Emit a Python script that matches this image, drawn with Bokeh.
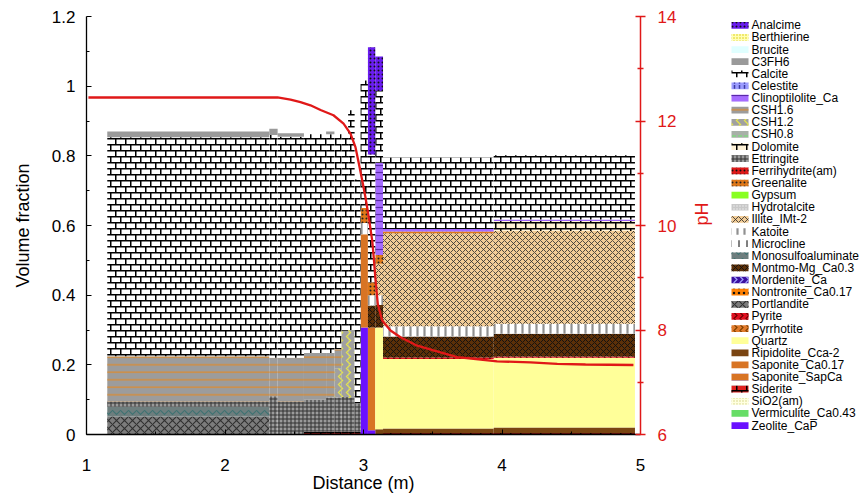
import math
from bokeh.plotting import figure
from bokeh.layouts import row
from bokeh.models import (Range1d, LinearAxis, FixedTicker, ColumnDataSource,
                          CanvasTexture, CustomJSTickFormatter)
from bokeh.core.properties import value
from bokeh.embed import file_html
from bokeh.resources import INLINE

# ---------------- data ----------------
# cell edges along the profile (m)
edges = [1.15, 2.32, 2.38, 2.57, 2.73, 2.79, 2.84, 2.889, 2.936, 2.979, 3.032, 3.085, 3.141, 3.94, 4.96]

# volume fraction per cell (one value per segment between edges)
siderite      = [0, 0, 0, 0.008, 0.008, 0.008, 0.008, 0.008, 0.008, 0, 0, 0, 0.004, 0.004]
ripidolite    = [0, 0, 0, 0, 0, 0, 0, 0, 0, 0, 0, 0.015, 0.013, 0.016]
zeolite_cap   = [0, 0, 0, 0, 0, 0, 0, 0, 0, 0.307, 0.012, 0, 0, 0]
portlandite   = [0.052, 0, 0, 0, 0, 0, 0, 0, 0, 0, 0, 0, 0, 0]
monosulfo     = [0.028, 0, 0, 0, 0, 0, 0, 0, 0, 0, 0, 0, 0, 0]
ettringite    = [0.015, 0.11, 0.095, 0.092, 0.098, 0.098, 0.10, 0.097, 0.082, 0, 0, 0, 0, 0]
saponite_ca   = [0, 0, 0, 0, 0, 0, 0, 0, 0, 0.268, 0.295, 0, 0, 0]
quartz        = [0, 0, 0, 0, 0, 0, 0, 0, 0, 0, 0, 0.292, 0.20, 0.20]
pyrite        = [0, 0, 0, 0, 0, 0, 0, 0, 0, 0, 0, 0, 0.004, 0.004]
csh12         = [0, 0, 0, 0, 0, 0.084, 0.19, 0.195, 0, 0, 0, 0, 0, 0]
csh16         = [0.13, 0.11, 0.125, 0.134, 0.128, 0.055, 0, 0, 0, 0, 0, 0, 0, 0]
montmo        = [0, 0, 0, 0, 0, 0, 0, 0, 0, 0, 0.063, 0.065, 0.06, 0.065]
katoite       = [0, 0, 0, 0, 0, 0, 0, 0, 0, 0.032, 0.03, 0.028, 0.03, 0.029]
illite        = [0, 0, 0, 0, 0, 0, 0, 0, 0, 0, 0, 0.09, 0.267, 0.266]
greenalite    = [0, 0, 0, 0, 0, 0, 0, 0, 0, 0.043, 0.037, 0.025, 0.005, 0]
dolomite      = [0, 0, 0, 0, 0, 0, 0, 0, 0, 0, 0, 0, 0, 0.029]
clinoptilolite = [0, 0, 0, 0, 0, 0, 0, 0, 0, 0, 0, 0.265, 0.007, 0.004]
calcite       = [0.628, 0.64, 0.635, 0.628, 0.628, 0.617, 0.564, 0.631, 0.642, 0.366, 0.367, 0.206, 0.205, 0.185]
c3fh6         = [0.017, 0.018, 0.01, 0, 0.008, 0, 0, 0, 0, 0, 0, 0, 0, 0]
analcime      = [0, 0, 0, 0, 0, 0, 0, 0, 0, 0, 0.308, 0.099, 0, 0]

# pH profile
ph_x = [1.014, 2.379, 2.473, 2.545, 2.617, 2.690, 2.783, 2.856, 2.906, 2.942, 2.966, 2.991,
        3.014, 3.038, 3.063, 3.074, 3.087, 3.103, 3.135, 3.195, 3.267, 3.388, 3.505, 3.677,
        3.794, 3.965, 4.206, 4.399, 4.603, 4.949]
ph_y = [12.45, 12.45, 12.41, 12.36, 12.30, 12.21, 12.11, 11.95, 11.76, 11.50, 11.19, 10.86,
        10.54, 10.16, 9.71, 9.39, 8.95, 8.50, 8.18, 7.99, 7.86, 7.70, 7.61, 7.48,
        7.45, 7.40, 7.38, 7.35, 7.34, 7.33]

legend_names = ["Analcime", "Berthierine", "Brucite", "C3FH6", "Calcite", "Celestite",
                "Clinoptilolite_Ca", "CSH1.6", "CSH1.2", "CSH0.8", "Dolomite", "Ettringite",
                "Ferrihydrite(am)", "Greenalite", "Gypsum", "Hydrotalcite", "Illite_IMt-2",
                "Katoite", "Microcline", "Monosulfoaluminate", "Montmo-Mg_Ca0.3", "Mordenite_Ca",
                "Nontronite_Ca0.17", "Portlandite", "Pyrite", "Pyrrhotite", "Quartz",
                "Ripidolite_Cca-2", "Saponite_Ca0.17", "Saponite_SapCa", "Siderite", "SiO2(am)",
                "Vermiculite_Ca0.43", "Zeolite_CaP"]

minerals = {
    "Siderite": siderite, "Ripidolite_Cca-2": ripidolite, "Zeolite_CaP": zeolite_cap,
    "Portlandite": portlandite, "Monosulfoaluminate": monosulfo, "Ettringite": ettringite,
    "Saponite_Ca0.17": saponite_ca, "Quartz": quartz, "Pyrite": pyrite, "CSH1.2": csh12,
    "CSH1.6": csh16, "Montmo-Mg_Ca0.3": montmo, "Katoite": katoite, "Illite_IMt-2": illite,
    "Greenalite": greenalite, "Dolomite": dolomite, "Clinoptilolite_Ca": clinoptilolite,
    "Calcite": calcite, "C3FH6": c3fh6, "Analcime": analcime,
}
stack_order = list(minerals.keys())

# ---------------- styles ----------------
# name: (fill, hatch, hatch_color, hatch_scale, hatch_weight)
styles = {
    "Analcime": ("#6a1cf0", ".", "#101010", 4, 1.6),
    "Berthierine": ("#ffffb4", ".", "#d8c800", 3, 1.5),
    "Brucite": ("#e0ffff", None, "#000000", 6, 1),
    "C3FH6": ("#9a9a9a", None, "#000000", 6, 1),
    "Calcite": ("#ffffff", "brick", "#000000", 12, 1),
    "Celestite": ("#9c9cff", ":", "#3c3ca0", 5, 1.5),
    "Clinoptilolite_Ca": ("#a66cff", "-", "#5a2aa8", 7, 1.2),
    "CSH1.6": ("#9c9c9c", "-", "#e08a2a", 7.5, 1.2),
    "CSH1.2": ("#a0a0a0", ">", "#e4e44c", 8, 1.3),
    "CSH0.8": ("#a8b0a8", '"', "#78e078", 6, 1.2),
    "Dolomite": ("#fff2d6", "brick", "#000000", 12, 1),
    "Ettringite": ("#9a9a9a", "+", "#303030", 4, 1),
    "Ferrihydrite(am)": ("#e01818", ".", "#101010", 4, 1.5),
    "Greenalite": ("#e07818", ".", "#202020", 4, 1.6),
    "Gypsum": ("#88ff22", None, "#000000", 6, 1),
    "Hydrotalcite": ("#c8c8c8", ".", "#eeeeee", 3, 1.5),
    "Illite_IMt-2": ("#f2cc96", "x", "#2a2a2a", 6, 0.8),
    "Katoite": ("#ffffff", "|", "#909090", 7, 2.2),
    "Microcline": ("#ffffff", "|", "#000000", 8, 1),
    "Monosulfoaluminate": ("#6e7e7e", "v", "#3f7272", 8, 1.2),
    "Montmo-Mg_Ca0.3": ("#5c3008", "x", "#101010", 6, 0.9),
    "Mordenite_Ca": ("#3a10a0", ">", "#a0a0ff", 6, 1.2),
    "Nontronite_Ca0.17": ("#ff8000", ".", "#101010", 5, 3),
    "Portlandite": ("#7c7c7c", "x", "#303030", 8, 1.1),
    "Pyrite": ("#e01020", ">", "#700000", 6, 1.2),
    "Pyrrhotite": ("#e07a2a", ">", "#804000", 6, 1.2),
    "Quartz": ("#ffff99", None, "#000000", 6, 1),
    "Ripidolite_Cca-2": ("#7a4512", None, "#000000", 6, 1),
    "Saponite_Ca0.17": ("#d87424", None, "#000000", 6, 1),
    "Saponite_SapCa": ("#d87424", "-", "#6040c0", 8, 1.2),
    "Siderite": ("#e02020", "brick", "#000000", 12, 1),
    "SiO2(am)": ("#ffffe0", ".", "#d0d080", 3, 1.2),
    "Vermiculite_Ca0.43": ("#66dd66", None, "#000000", 6, 1),
    "Zeolite_CaP": ("#6a10ff", None, "#000000", 6, 1),
}

brick = CanvasTexture(repetition="repeat", code="""
ctx.canvas.width = 10;
ctx.canvas.height = 12;
ctx.fillStyle = '#000000';
ctx.fillRect(0, 0, 10, 1.5);
ctx.fillRect(0, 6, 10, 1.5);
ctx.fillRect(0, 0, 1.5, 6);
ctx.fillRect(5, 6, 1.5, 6);
""")


def style_kw(name):
    fill, hatch, hcol, hscale, hw = styles[name]
    kw = dict(fill_color=fill, line_color=None)
    if hatch:
        kw.update(hatch_pattern=value(hatch), hatch_color=hcol, hatch_scale=hscale,
                  hatch_weight=hw, hatch_extra={"brick": brick})
    return kw


FONT = "Liberation Sans"
RED = "#e01818"

# ---------------- main plot ----------------
p = figure(width=726, height=498, x_range=Range1d(1, 5), y_range=Range1d(0, 1.2),
           output_backend="svg", toolbar_location=None,
           min_border_left=86, min_border_right=86, min_border_top=16, min_border_bottom=64)
p.outline_line_color = None
p.xgrid.visible = False
p.ygrid.visible = False
p.extra_y_ranges = {"ph": Range1d(6, 14)}

lefts = edges[:-1]
rights = edges[1:]
cum = [0.0] * len(lefts)
for name in stack_order:
    vals = minerals[name]
    idx = [i for i, v in enumerate(vals) if v > 0]
    src = ColumnDataSource(dict(
        left=[lefts[i] for i in idx], right=[rights[i] for i in idx],
        bottom=[cum[i] for i in idx], top=[cum[i] + vals[i] for i in idx]))
    for i in idx:
        cum[i] += vals[i]
    p.quad(left="left", right="right", bottom="bottom", top="top", source=src, **style_kw(name))

p.line(ph_x, ph_y, y_range_name="ph", line_color=RED, line_width=2.3)

for ax in (p.xaxis[0], p.yaxis[0]):
    ax.axis_line_color = "black"
    ax.axis_line_width = 1.3
    ax.major_tick_line_color = "black"
    ax.minor_tick_line_color = "black"
    ax.major_tick_in = 5
    ax.major_tick_out = 0
    ax.minor_tick_in = 3
    ax.minor_tick_out = 0
    ax.major_label_text_font = FONT
    ax.major_label_text_font_size = "17px"
    ax.major_label_text_color = "black"
    ax.axis_label_text_font = FONT
    ax.axis_label_text_font_size = "18px"
    ax.axis_label_text_font_style = "normal"
    ax.axis_label_text_color = "black"

p.xaxis.ticker = FixedTicker(ticks=[1, 2, 3, 4, 5], minor_ticks=[1.5, 2.5, 3.5, 4.5])
p.xaxis.axis_label = "Distance (m)"
p.xaxis.major_label_standoff = 24
p.xaxis.axis_label_standoff = -1

p.yaxis.ticker = FixedTicker(ticks=[0, 0.2, 0.4, 0.6, 0.8, 1, 1.2],
                             minor_ticks=[0.1, 0.3, 0.5, 0.7, 0.9, 1.1])
p.yaxis.formatter = CustomJSTickFormatter(code="return String(Math.round(tick*10)/10)")
p.yaxis.axis_label = "Volume fraction"
p.yaxis.major_label_standoff = 11
p.yaxis.axis_label_standoff = 16

ph_ax = LinearAxis(y_range_name="ph", axis_label="pH",
                   ticker=FixedTicker(ticks=[6, 8, 10, 12, 14], minor_ticks=[7, 9, 11, 13]))
ph_ax.axis_line_color = RED
ph_ax.axis_line_width = 1.5
ph_ax.major_tick_line_color = RED
ph_ax.minor_tick_line_color = RED
ph_ax.major_tick_line_width = 1.5
ph_ax.minor_tick_line_width = 1.5
ph_ax.major_tick_in = 5
ph_ax.major_tick_out = 5
ph_ax.minor_tick_in = 3
ph_ax.minor_tick_out = 3
ph_ax.major_label_text_color = RED
ph_ax.major_label_text_font = FONT
ph_ax.major_label_text_font_size = "17px"
ph_ax.major_label_standoff = 12
ph_ax.axis_label_text_color = RED
ph_ax.axis_label_text_font = FONT
ph_ax.axis_label_text_font_size = "18px"
ph_ax.axis_label_text_font_style = "normal"
ph_ax.axis_label_standoff = 23
try:
    ph_ax.axis_label_orientation = math.pi / 2
except Exception:
    pass
p.add_layout(ph_ax, "right")

# ---------------- legend panel ----------------
n = len(legend_names)
PITCH = 14.45
leg_y = [10.5 + PITCH * i for i in range(n)]

lg = figure(width=134, height=498, x_range=Range1d(0, 134), y_range=Range1d(498, 0),
            output_backend="svg", toolbar_location=None,
            x_axis_location=None, y_axis_location=None, min_border=0)
lg.outline_line_color = None
lg.xgrid.visible = False
lg.ygrid.visible = False

for name, cy in zip(legend_names, leg_y):
    lg.quad(left=[5], right=[22], top=[cy - 4], bottom=[cy + 4], **style_kw(name))

lg.text(x=[25] * n, y=leg_y, text=legend_names, text_font=value(FONT),
        text_font_size=value("12px"), text_baseline="middle", text_align="left",
        text_color="black")

layout = row(p, lg)
open("out.html", "w").write(file_html(layout, INLINE))
